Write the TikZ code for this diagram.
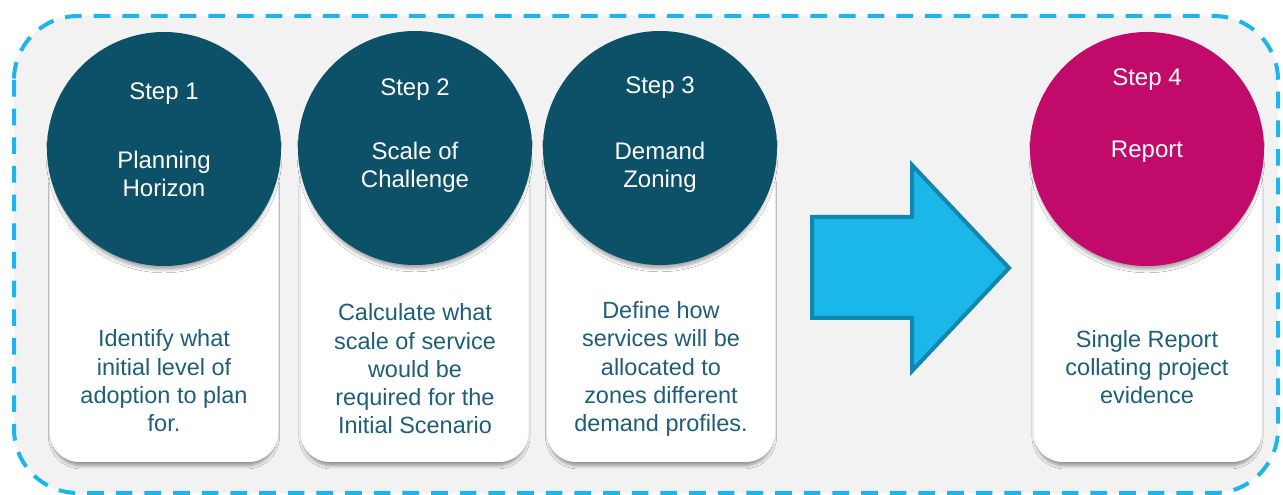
\documentclass[tikz,border=0pt]{standalone}
\usepackage{fontspec}
\setmainfont{Liberation Sans}
\usetikzlibrary{shadows.blur}

\definecolor{frameblue}{HTML}{1DB5EA}
\definecolor{panelgray}{HTML}{F2F2F2}
\definecolor{stepteal}{HTML}{0D5168}
\definecolor{reportpink}{HTML}{C20A6A}
\definecolor{bodyteal}{HTML}{1F5E78}
\definecolor{arrowfill}{HTML}{1BB7E9}
\definecolor{arrowedge}{HTML}{1286AD}

\tikzset{
  card/.style={draw=none, fill=white, rounded corners=22pt,
    minimum width=171pt, minimum height=234pt, inner sep=0pt,
    blur shadow={shadow xshift=0pt, shadow yshift=-4.5pt, shadow scale=0.985,
      shadow blur radius=2.5pt, shadow opacity=40}},
  disc/.style={circle, draw=none, minimum size=175.5pt, inner sep=0pt,
    blur shadow={shadow xshift=0pt, shadow yshift=-4.5pt, shadow scale=0.98,
      shadow blur radius=2.5pt, shadow opacity=35}},
  head/.style={text=white, align=center, inner sep=0pt,
    font=\fontsize{18}{21}\selectfont},
  body/.style={text=bodyteal, align=center, inner sep=0pt,
    font=\fontsize{17.6}{21.2}\selectfont},
}

\begin{document}
\begin{tikzpicture}[x=0.75pt, y=-0.75pt]
  \useasboundingbox (0,0) rectangle (1283,495);

  % panel with dashed frame
  \draw[frameblue, fill=panelgray, line width=3pt, rounded corners=48pt,
        dash pattern=on 12.5pt off 9pt]
    (14,16) rectangle (1278,493);

  % cards
  \node[card] (card1) at (164,306) {};
  \node[card] (card2) at (414.5,306) {};
  \node[card] (card3) at (661,306) {};
  \node[card] (card4) at (1147.5,306) {};

  % discs
  \node[disc, fill=stepteal] (disc1) at (164,149) {};
  \node[disc, fill=stepteal] (disc2) at (415,148) {};
  \node[disc, fill=stepteal] (disc3) at (660,148) {};
  \node[disc, fill=reportpink] (disc4) at (1147,149) {};

  % disc titles
  \node[head] (s1) at (164,94) {Step 1};
  \node[head] (t1) at (164,174) {Planning\\Horizon};
  \node[head] (s2) at (415,90) {Step 2};
  \node[head] (t2) at (415,167) {Scale of\\Challenge};
  \node[head] (s3) at (660,88) {Step 3};
  \node[head] (t3) at (660,167) {Demand\\Zoning};
  \node[head] (s4) at (1147,80) {Step 4};
  \node[head] (t4) at (1147,152) {Report};

  % card descriptions
  \node[body] (b1) at (164,381) {Identify what\\initial level of\\adoption to plan\\for.};
  \node[body] (b2) at (415,369) {Calculate what\\scale of service\\would be\\required for the\\Initial Scenario};
  \node[body] (b3) at (661,369) {Define how\\services will be\\allocated to\\zones different\\demand profiles.};
  \node[body] (b4) at (1147,367) {Single Report\\collating project\\evidence};

  % block arrow towards the report
  \draw[arrowedge, fill=arrowfill, line width=3pt, line join=miter]
    (812,217) -- (912,217) -- (912,165) -- (1009,268) -- (912,371)
    -- (912,318) -- (812,318) -- cycle;
\end{tikzpicture}
\end{document}
